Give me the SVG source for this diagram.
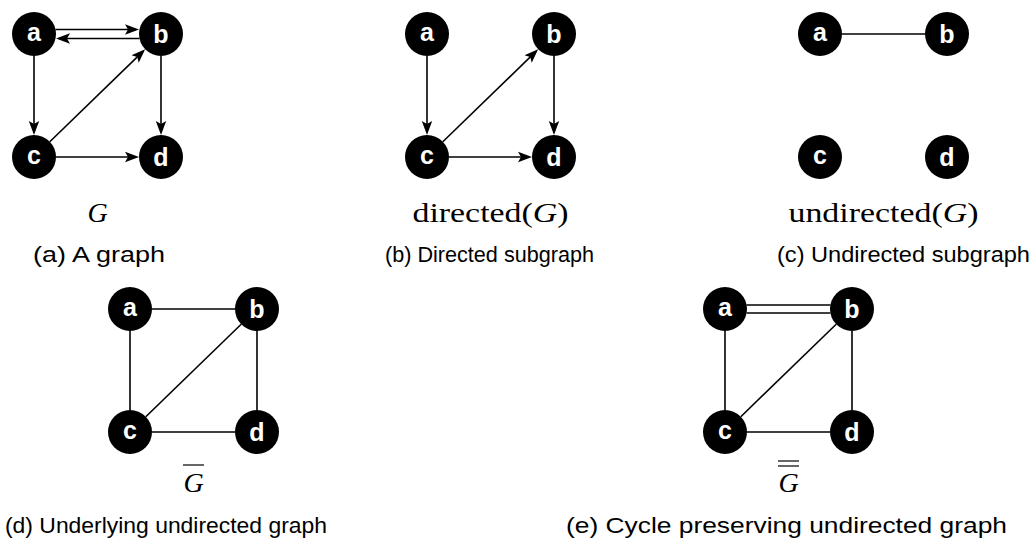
<svg xmlns="http://www.w3.org/2000/svg" width="1036" height="546" viewBox="0 0 1036 546">
  <style>
    .node circle { fill: #000; }
    .node text { fill: #fff; font-family: "Liberation Sans", Arial, sans-serif; font-weight: bold; font-size: 25px; text-anchor: middle; }
    .edge { stroke: #000; stroke-width: 1.6; fill: none; }
    .arrow { marker-end: url(#head); }
    .math { font-family: "Liberation Serif", "Times New Roman", serif; font-size: 28px; fill: #000; text-anchor: middle; }
    .it { font-style: italic; }
    .bar { stroke: #000; stroke-width: 1.2; }
    .caption { font-family: "Liberation Sans", Arial, sans-serif; font-size: 22px; fill: #000; }
  </style>
  <defs>
    <marker id="head" markerUnits="userSpaceOnUse" markerWidth="16" markerHeight="12" refX="11" refY="6" orient="auto">
      <path d="M0,0.8 L14,6 L0,11.2 L3,6 Z" fill="#000"/>
    </marker>
  </defs>
  <rect width="1036" height="546" fill="#fff"/>

  <!-- (a) the graph G -->
  <g id="panel-a">
    <g id="edges-a">
      <line class="edge arrow" x1="55.5" y1="29.5" x2="136" y2="29.5"/>
      <line class="edge arrow" x1="139.5" y1="38.5" x2="59" y2="38.5"/>
      <line class="edge arrow" x1="34" y1="56" x2="34" y2="132"/>
      <line class="edge arrow" x1="161" y1="56" x2="161" y2="132"/>
      <line class="edge arrow" x1="56" y1="157" x2="136" y2="157"/>
      <line class="edge arrow" x1="49.8" y1="141.7" x2="143" y2="51.4"/>
    </g>
    <g id="a-a" class="node"><circle cx="34" cy="34" r="22"/><text x="34" y="40.5">a</text></g>
    <g id="a-b" class="node"><circle cx="161" cy="34" r="22"/><text x="161" y="43">b</text></g>
    <g id="a-c" class="node"><circle cx="34" cy="157" r="22"/><text x="34" y="163.5">c</text></g>
    <g id="a-d" class="node"><circle cx="161" cy="157" r="22"/><text x="161" y="166">d</text></g>
    <text class="math it" x="97.5" y="222">G</text>
  </g>

  <!-- (b) directed subgraph -->
  <g id="panel-b" transform="translate(393,0)">
    <g id="edges-b">
      <line class="edge arrow" x1="34" y1="56" x2="34" y2="132"/>
      <line class="edge arrow" x1="161" y1="56" x2="161" y2="132"/>
      <line class="edge arrow" x1="56" y1="157" x2="136" y2="157"/>
      <line class="edge arrow" x1="49.8" y1="141.7" x2="143" y2="51.4"/>
    </g>
    <g id="b-a" class="node"><circle cx="34" cy="34" r="22"/><text x="34" y="40.5">a</text></g>
    <g id="b-b" class="node"><circle cx="161" cy="34" r="22"/><text x="161" y="43">b</text></g>
    <g id="b-c" class="node"><circle cx="34" cy="157" r="22"/><text x="34" y="163.5">c</text></g>
    <g id="b-d" class="node"><circle cx="161" cy="157" r="22"/><text x="161" y="166">d</text></g>
    <text class="math" x="97.5" y="222" textLength="156" lengthAdjust="spacingAndGlyphs">directed(<tspan class="it">G</tspan>)</text>
  </g>

  <!-- (c) undirected subgraph -->
  <g id="panel-c" transform="translate(786,0)">
    <g id="edges-c">
      <line class="edge" x1="56" y1="34" x2="139" y2="34"/>
    </g>
    <g id="c-a" class="node"><circle cx="34" cy="34" r="22"/><text x="34" y="40.5">a</text></g>
    <g id="c-b" class="node"><circle cx="161" cy="34" r="22"/><text x="161" y="43">b</text></g>
    <g id="c-c" class="node"><circle cx="34" cy="157" r="22"/><text x="34" y="163.5">c</text></g>
    <g id="c-d" class="node"><circle cx="161" cy="157" r="22"/><text x="161" y="166">d</text></g>
    <text class="math" x="97.5" y="222" textLength="190" lengthAdjust="spacingAndGlyphs">undirected(<tspan class="it">G</tspan>)</text>
  </g>

  <!-- (d) underlying undirected graph -->
  <g id="panel-d" transform="translate(96,275)">
    <g id="edges-d">
      <line class="edge" x1="56" y1="34" x2="139" y2="34"/>
      <line class="edge" x1="34" y1="56" x2="34" y2="135"/>
      <line class="edge" x1="161" y1="56" x2="161" y2="135"/>
      <line class="edge" x1="56" y1="157" x2="139" y2="157"/>
      <line class="edge" x1="49.8" y1="141.7" x2="145.2" y2="49.3"/>
    </g>
    <g id="d-a" class="node"><circle cx="34" cy="34" r="22"/><text x="34" y="40.5">a</text></g>
    <g id="d-b" class="node"><circle cx="161" cy="34" r="22"/><text x="161" y="43">b</text></g>
    <g id="d-c" class="node"><circle cx="34" cy="157" r="22"/><text x="34" y="163.5">c</text></g>
    <g id="d-d" class="node"><circle cx="161" cy="157" r="22"/><text x="161" y="166">d</text></g>
    <line class="bar" x1="87" y1="190" x2="108" y2="190"/>
    <text class="math it" x="97.5" y="217">G</text>
  </g>

  <!-- (e) cycle preserving undirected graph -->
  <g id="panel-e" transform="translate(691,275)">
    <g id="edges-e">
      <line class="edge" x1="55.6" y1="30" x2="139.4" y2="30"/>
      <line class="edge" x1="55.6" y1="38" x2="139.4" y2="38"/>
      <line class="edge" x1="34" y1="56" x2="34" y2="135"/>
      <line class="edge" x1="161" y1="56" x2="161" y2="135"/>
      <line class="edge" x1="56" y1="157" x2="139" y2="157"/>
      <line class="edge" x1="49.8" y1="141.7" x2="145.2" y2="49.3"/>
    </g>
    <g id="e-a" class="node"><circle cx="34" cy="34" r="22"/><text x="34" y="40.5">a</text></g>
    <g id="e-b" class="node"><circle cx="161" cy="34" r="22"/><text x="161" y="43">b</text></g>
    <g id="e-c" class="node"><circle cx="34" cy="157" r="22"/><text x="34" y="163.5">c</text></g>
    <g id="e-d" class="node"><circle cx="161" cy="157" r="22"/><text x="161" y="166">d</text></g>
    <line class="bar" x1="87" y1="186" x2="108" y2="186"/>
    <line class="bar" x1="87" y1="191" x2="108" y2="191"/>
    <text class="math it" x="97.5" y="217">G</text>
  </g>

  <!-- sub-figure captions -->
  <text class="caption" x="33" y="262" textLength="132" lengthAdjust="spacingAndGlyphs">(a) A graph</text>
  <text class="caption" x="385" y="262" textLength="209" lengthAdjust="spacingAndGlyphs">(b) Directed subgraph</text>
  <text class="caption" x="777" y="262" textLength="253" lengthAdjust="spacingAndGlyphs">(c) Undirected subgraph</text>
  <text class="caption" x="5" y="533" textLength="322" lengthAdjust="spacingAndGlyphs">(d) Underlying undirected graph</text>
  <text class="caption" x="566" y="533" textLength="441" lengthAdjust="spacingAndGlyphs">(e) Cycle preserving undirected graph</text>
</svg>
